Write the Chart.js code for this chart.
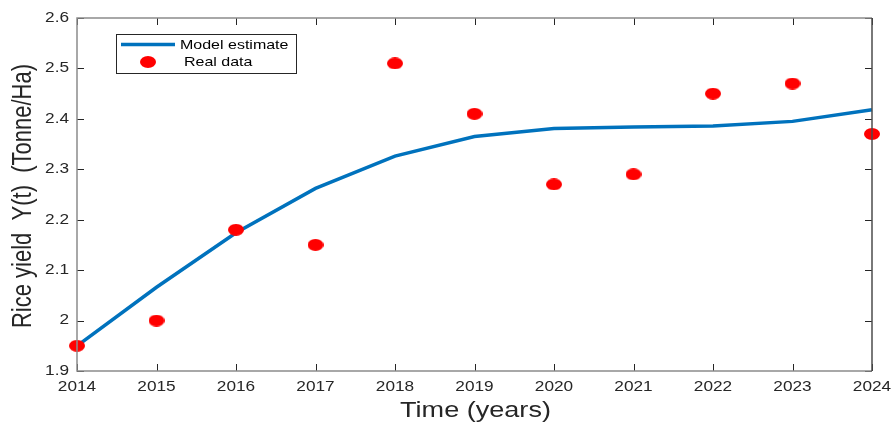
<!DOCTYPE html>
<html>
<head>
<meta charset="utf-8">
<script src="https://cdn.jsdelivr.net/npm/chart.js@4/dist/chart.umd.min.js"></script>
<style>
  html, body { margin: 0; padding: 0; background: #fff; }
  #wrap { width: 891px; height: 422px; position: relative; }
</style>
</head>
<body>
<div id="wrap"><canvas id="c" width="891" height="422"></canvas></div>
<script>
// Years on the horizontal axis
const years = [2014, 2015, 2016, 2017, 2018, 2019, 2020, 2021, 2022, 2023, 2024];
// Fitted model curve (Tonne/Ha)
const modelEstimate = [1.95, 2.066, 2.174, 2.262, 2.326, 2.365, 2.381, 2.384, 2.386, 2.395, 2.418];
// Observed rice yield (Tonne/Ha)
const realData = [1.95, 2.00, 2.18, 2.15, 2.51, 2.41, 2.27, 2.29, 2.45, 2.47, 2.37];
// Axis tick labels
const yTickLabels = ['1.9', '2', '2.1', '2.2', '2.3', '2.4', '2.5', '2.6'];
const xTickLabels = years.map(String);

const FONT = '"Liberation Sans", Arial, sans-serif';
const INK = '#262626';
const WIDE = 1.23; // horizontal stretch of all lettering

// Oval marker for the observed points
function makeMarker(w, h) {
  const c = document.createElement('canvas');
  c.width = w; c.height = h;
  const g = c.getContext('2d');
  g.fillStyle = '#ff0000';
  g.beginPath();
  g.ellipse(w / 2, h / 2, w / 2, h / 2, 0, 0, Math.PI * 2);
  g.fill();
  return c;
}
const marker = makeMarker(16, 12);

// text drawn with the horizontal stretch
function wideText(ctx, text, x, y, align) {
  ctx.save();
  ctx.translate(x, y);
  ctx.scale(WIDE, 1);
  ctx.textAlign = align;
  ctx.fillText(text, 0, 0);
  ctx.restore();
}

// Box frame, inward ticks, tick labels, axis titles and legend
const framePlugin = {
  id: 'frame',
  afterDraw(chart) {
    const { ctx, chartArea: a, scales } = chart;
    const L = a.left, R = a.right, T = a.top, B = a.bottom;
    ctx.save();
    // ticks on all four sides pointing inward
    ctx.strokeStyle = INK;
    ctx.lineWidth = 1;
    const tl = 7;
    ctx.beginPath();
    scales.x.ticks.forEach(t => {
      const x = Math.round(scales.x.getPixelForValue(t.value)) + 0.5;
      ctx.moveTo(x, B); ctx.lineTo(x, B - tl);
      ctx.moveTo(x, T); ctx.lineTo(x, T + tl);
    });
    scales.y.ticks.forEach(t => {
      const y = Math.round(scales.y.getPixelForValue(t.value)) + 0.5;
      ctx.moveTo(L, y); ctx.lineTo(L + tl, y);
      ctx.moveTo(R, y); ctx.lineTo(R - tl, y);
    });
    ctx.stroke();
    // frame
    ctx.lineWidth = 1.5;
    ctx.strokeStyle = '#8c8c8c';
    ctx.beginPath();
    ctx.moveTo(R, T); ctx.lineTo(L, T); ctx.lineTo(L, B); ctx.lineTo(R, B);
    ctx.stroke();
    ctx.strokeStyle = '#4d4d4d';
    ctx.beginPath();
    ctx.moveTo(R, T); ctx.lineTo(R, B);
    ctx.stroke();

    // tick labels
    ctx.fillStyle = INK;
    ctx.font = '14px ' + FONT;
    ctx.textBaseline = 'middle';
    scales.x.ticks.forEach(t => {
      const i = years.indexOf(t.value);
      if (i >= 0) wideText(ctx, xTickLabels[i], scales.x.getPixelForValue(t.value), 387, 'center');
    });
    scales.y.ticks.forEach(t => {
      const i = Math.round((t.value - 1.9) * 10);
      if (yTickLabels[i] !== undefined) wideText(ctx, yTickLabels[i], L - 8, scales.y.getPixelForValue(t.value), 'right');
    });

    // axis titles
    ctx.font = '22px ' + FONT;
    wideText(ctx, 'Time (years)', (L + R) / 2 + 1, 411, 'center');
    ctx.save();
    ctx.translate(24, 196);
    ctx.scale(WIDE, 1);
    ctx.rotate(-Math.PI / 2);
    ctx.textAlign = 'center';
    ctx.fillText('Rice yield  Y(t)  (Tonne/Ha)', 0, 0);
    ctx.restore();

    // legend
    const bx = 116, by = 34, bw = 180, bh = 39;
    ctx.fillStyle = '#ffffff';
    ctx.fillRect(bx, by, bw, bh);
    ctx.strokeStyle = INK;
    ctx.lineWidth = 1;
    ctx.strokeRect(bx + 0.5, by + 0.5, bw, bh);
    const ds0 = chart.data.datasets[0];
    ctx.strokeStyle = ds0.borderColor;
    ctx.lineWidth = ds0.borderWidth;
    ctx.beginPath();
    ctx.moveTo(121, 44.5); ctx.lineTo(175, 44.5);
    ctx.stroke();
    ctx.drawImage(marker, 148 - 8, 62 - 6);
    ctx.fillStyle = '#000';
    ctx.font = '13px ' + FONT;
    wideText(ctx, chart.data.datasets[0].label, 180, 45, 'left');
    wideText(ctx, chart.data.datasets[1].label, 184, 62, 'left');
    ctx.restore();
  }
};

new Chart(document.getElementById('c'), {
  type: 'line',
  data: {
    datasets: [
      {
        label: 'Model estimate',
        data: years.map((y, i) => ({ x: y, y: modelEstimate[i] })),
        borderColor: '#0072BD',
        borderWidth: 3.5,
        pointRadius: 0,
        fill: false,
        tension: 0,
        clip: false,
        order: 2
      },
      {
        label: 'Real data',
        data: years.map((y, i) => ({ x: y, y: realData[i] })),
        showLine: false,
        pointStyle: marker,
        pointRadius: 8,
        backgroundColor: '#ff0000',
        borderColor: '#ff0000',
        clip: false,
        order: 1
      }
    ]
  },
  options: {
    responsive: false,
    animation: false,
    events: [],
    layout: { padding: { left: 0, top: 18, right: 19, bottom: 0 } },
    plugins: { legend: { display: false }, tooltip: { enabled: false } },
    scales: {
      x: {
        type: 'linear',
        min: 2014, max: 2024,
        afterFit(s) { s.height = 51; s.paddingLeft = 0; s.paddingRight = 0; },
        grid: { display: false, drawTicks: false },
        border: { display: false },
        ticks: { stepSize: 1, display: false, autoSkip: false }
      },
      y: {
        type: 'linear',
        min: 1.9, max: 2.6,
        afterFit(s) { s.width = 77; s.paddingTop = 0; s.paddingBottom = 0; },
        grid: { display: false, drawTicks: false },
        border: { display: false },
        ticks: { stepSize: 0.1, display: false }
      }
    }
  },
  plugins: [framePlugin]
});
</script>
</body>
</html>
